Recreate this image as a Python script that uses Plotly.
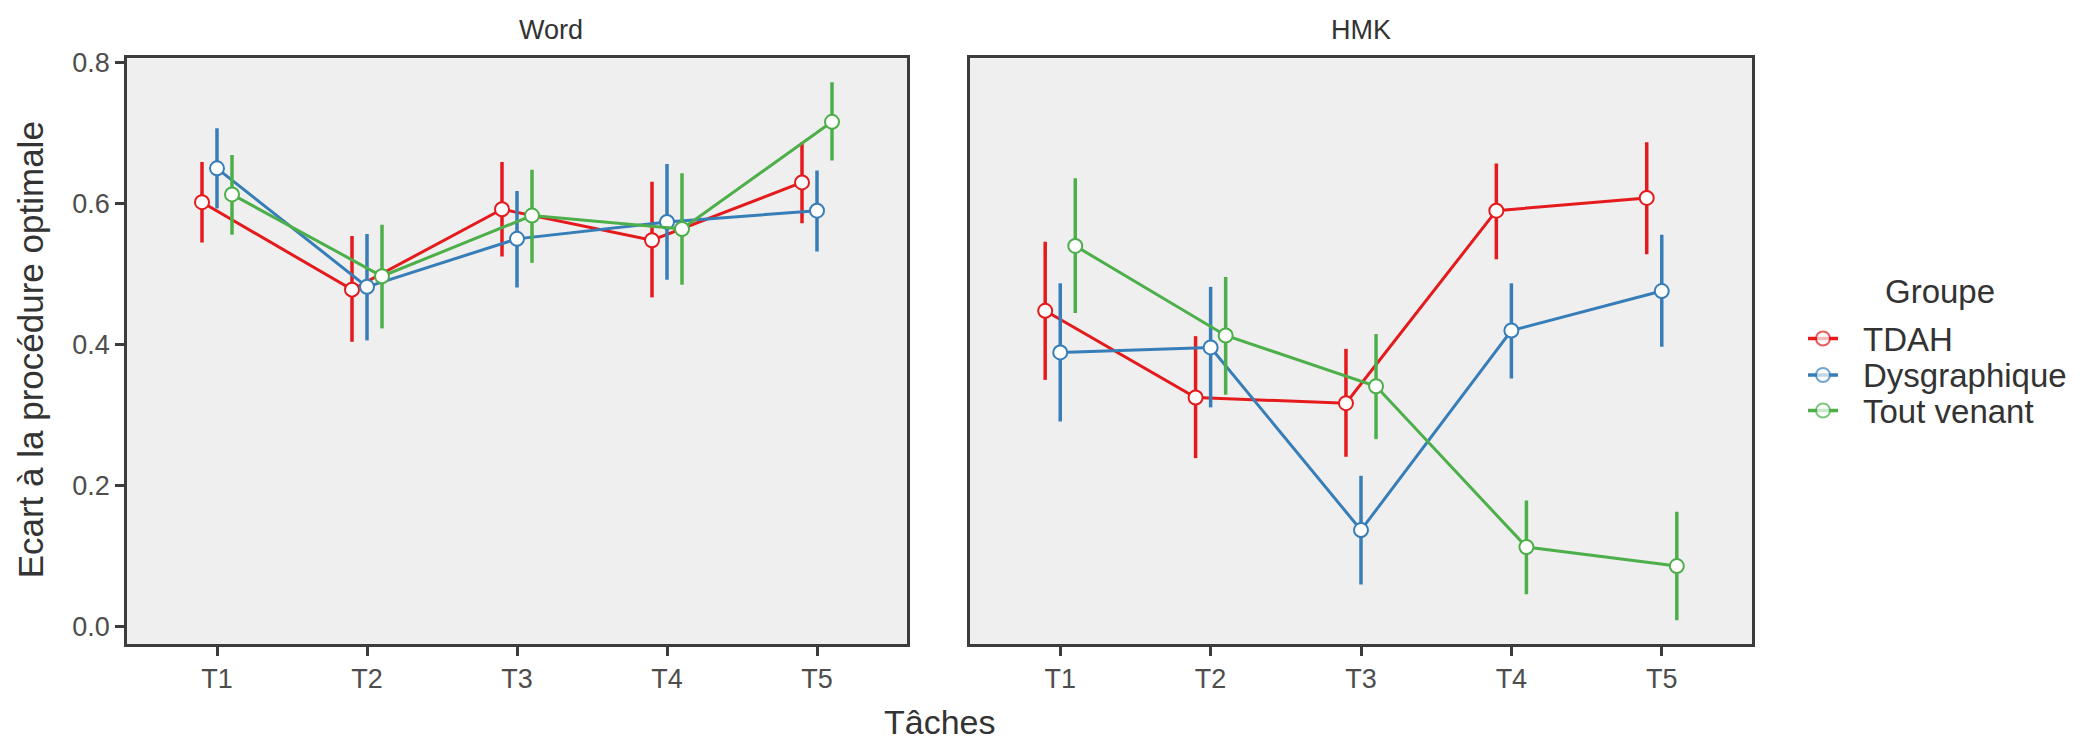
import plotly.graph_objects as go

tasks = ["T1", "T2", "T3", "T4", "T5"]
groups = ["TDAH", "Dysgraphique", "Tout venant"]
colors = ["#E41A1C", "#377EB8", "#4DAF4A"]
offsets = [-0.1, 0.0, 0.1]

# Word panel: mean, lower, upper
word_tdah = [0.602, 0.478, 0.592, 0.548, 0.630]
word_tdah_lo = [0.545, 0.404, 0.525, 0.467, 0.572]
word_tdah_hi = [0.659, 0.554, 0.659, 0.631, 0.687]
word_dys = [0.650, 0.482, 0.550, 0.574, 0.590]
word_dys_lo = [0.593, 0.406, 0.481, 0.492, 0.532]
word_dys_hi = [0.707, 0.557, 0.618, 0.656, 0.647]
word_tv = [0.613, 0.497, 0.583, 0.564, 0.716]
word_tv_lo = [0.556, 0.423, 0.516, 0.485, 0.661]
word_tv_hi = [0.669, 0.570, 0.648, 0.643, 0.772]

# HMK panel
hmk_tdah = [0.448, 0.325, 0.317, 0.590, 0.608]
hmk_tdah_lo = [0.350, 0.239, 0.241, 0.521, 0.528]
hmk_tdah_hi = [0.546, 0.412, 0.394, 0.657, 0.687]
hmk_dys = [0.389, 0.396, 0.137, 0.420, 0.476]
hmk_dys_lo = [0.291, 0.311, 0.060, 0.352, 0.397]
hmk_dys_hi = [0.487, 0.482, 0.214, 0.487, 0.556]
hmk_tv = [0.540, 0.413, 0.341, 0.113, 0.086]
hmk_tv_lo = [0.445, 0.329, 0.266, 0.046, 0.009]
hmk_tv_hi = [0.636, 0.496, 0.415, 0.179, 0.163]

yticks = [0.0, 0.2, 0.4, 0.6, 0.8]

panels = [
    ("Word", [(word_tdah, word_tdah_lo, word_tdah_hi),
              (word_dys, word_dys_lo, word_dys_hi),
              (word_tv, word_tv_lo, word_tv_hi)]),
    ("HMK", [(hmk_tdah, hmk_tdah_lo, hmk_tdah_hi),
             (hmk_dys, hmk_dys_lo, hmk_dys_hi),
             (hmk_tv, hmk_tv_lo, hmk_tv_hi)]),
]

FONT = "Liberation Sans, Arial, sans-serif"
W, H = 2093, 741
TXT = "#333333"
fig = go.Figure()


def py(px_from_top):
    return (H - px_from_top) / H


for p, (pname, series) in enumerate(panels):
    xa = "x" if p == 0 else "x2"
    ya = "y" if p == 0 else "y2"
    for g, (mean, lo, hi) in enumerate(series):
        xs = [i + 1 + offsets[g] for i in range(len(tasks))]
        fig.add_trace(go.Scatter(
            x=xs, y=mean, xaxis=xa, yaxis=ya,
            mode="lines+markers", name=groups[g], showlegend=False,
            line=dict(color=colors[g], width=3),
            marker=dict(size=14, color="white",
                        line=dict(color=colors[g], width=2)),
            error_y=dict(type="data", symmetric=False,
                         array=[h - m for h, m in zip(hi, mean)],
                         arrayminus=[m - l for m, l in zip(mean, lo)],
                         width=0, thickness=3.5, color=colors[g]),
        ))

# Legend keys (drawn on an auxiliary pixel-scaled axis)
LEG_X = [1808, 1823, 1838]
LEG_Y = [333, 370, 406]
for g in range(len(groups)):
    fig.add_trace(go.Scatter(
        x=LEG_X, y=[LEG_Y[g]] * 3, xaxis="x3", yaxis="y3",
        mode="lines+markers", showlegend=False, hoverinfo="skip",
        line=dict(color=colors[g], width=3.5),
        marker=dict(size=[0, 14, 0], color="white",
                    line=dict(color=colors[g], width=2)),
    ))

ydom = [py(643), py(49)]
axis_common = dict(showline=True, mirror=True, linecolor="#3C3C3C", linewidth=2.5,
                   showgrid=False, zeroline=False, ticklen=9,
                   tickwidth=2.5, tickcolor="#3C3C3C",
                   tickfont=dict(family=FONT, size=27, color="#4D4D4D"))

annotations = [
    dict(text="Word", x=(127 + 907) / 2 / W, y=py(20), yanchor="middle",
         font=dict(family=FONT, size=27, color=TXT)),
    dict(text="HMK", x=(970 + 1752) / 2 / W, y=py(20), yanchor="middle",
         font=dict(family=FONT, size=27, color=TXT)),
    dict(text="Tâches", x=940 / W, y=py(722), yanchor="middle",
         font=dict(family=FONT, size=34, color=TXT)),
    dict(text="Ecart à la procédure optimale", x=30 / W, y=py(345),
         xanchor="center", yanchor="middle", textangle=-90,
         font=dict(family=FONT, size=35, color=TXT)),
    dict(text="Groupe", x=1940 / W, y=py(285), xanchor="center", yanchor="middle",
         font=dict(family=FONT, size=33, color=TXT)),
]
for g in range(len(groups)):
    annotations.append(dict(text=groups[g], x=1861 / W, y=py(LEG_Y[g] + 1),
                            xanchor="left", yanchor="middle",
                            font=dict(family=FONT, size=33, color=TXT)))
for a in annotations:
    a.update(xref="paper", yref="paper", showarrow=False)

shapes = [
    dict(type="rect", xref=f"{ax} domain", yref=f"{ay} domain", x0=0, x1=1, y0=0, y1=1,
         fillcolor="#EFEFEF", line=dict(width=0), layer="below")
    for ax, ay in (("x", "y"), ("x2", "y2"))
]

fig.update_layout(
    width=W, height=H,
    margin=dict(l=0, r=0, t=0, b=0),
    paper_bgcolor="white", plot_bgcolor="white",
    font=dict(family=FONT, color=TXT),
    showlegend=False,
    xaxis=dict(domain=[127 / W, 907 / W], range=[0.4, 5.6], ticks="outside",
               tickvals=[1, 2, 3, 4, 5], ticktext=tasks, anchor="y", **axis_common),
    xaxis2=dict(domain=[970 / W, 1752 / W], range=[0.4, 5.6], ticks="outside",
                tickvals=[1, 2, 3, 4, 5], ticktext=tasks, anchor="y2", **axis_common),
    yaxis=dict(domain=ydom, range=[-0.025, 0.806], tickvals=yticks, ticks="outside",
               ticktext=[f"{v:.1f}" for v in yticks], anchor="x", **axis_common),
    yaxis2=dict(domain=ydom, range=[-0.025, 0.806], tickvals=yticks, ticks="",
                showticklabels=False, anchor="x2", **axis_common),
    xaxis3=dict(domain=[1800 / W, 1846 / W], range=[1800, 1846], visible=False,
                anchor="y3", fixedrange=True),
    yaxis3=dict(domain=[py(440), py(300)], range=[440, 300], visible=False,
                anchor="x3", fixedrange=True),
    shapes=shapes,
    annotations=annotations,
)

fig.write_html("out.html", config={"displayModeBar": False},
               post_script="document.body.style.margin='0';document.body.style.overflow='hidden';")
